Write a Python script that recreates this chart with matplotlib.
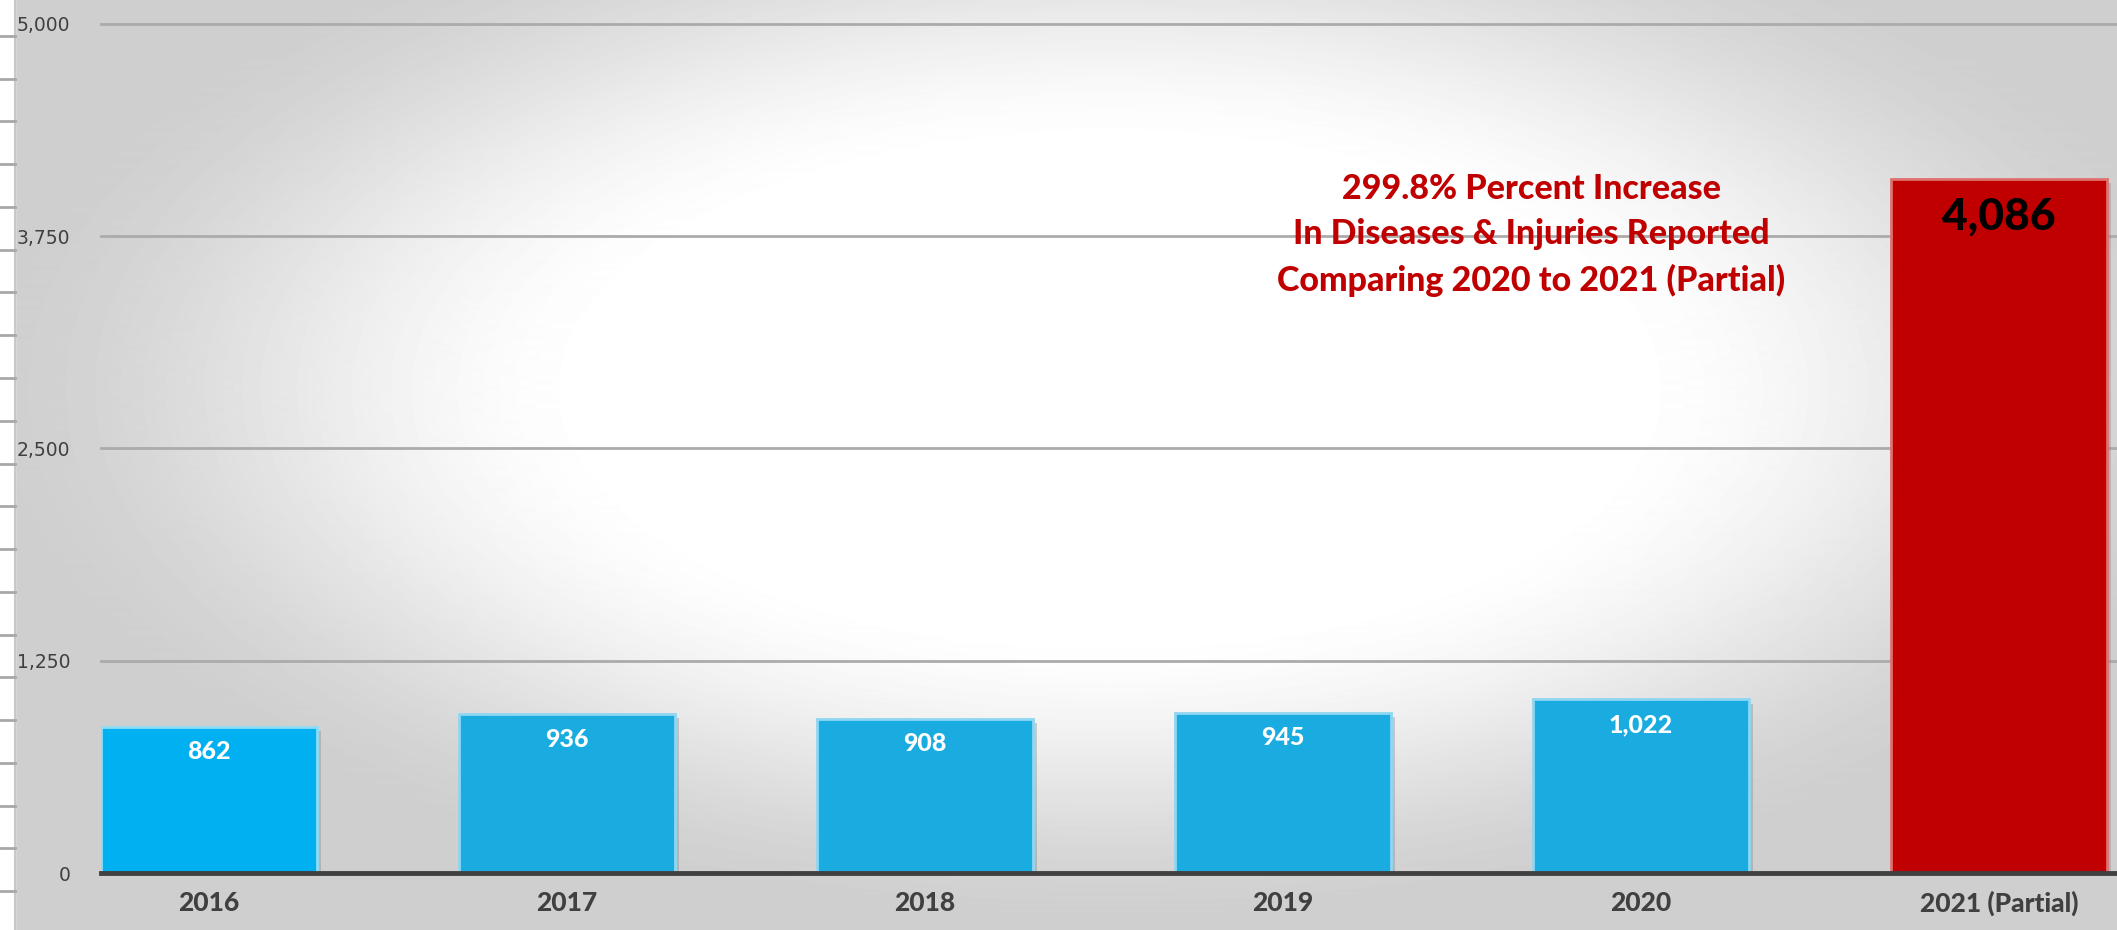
import numpy as np
import matplotlib.pyplot as plt
import matplotlib.patheffects as pe
from matplotlib.patches import Rectangle

# data
years = ["2016", "2017", "2018", "2019", "2020", "2021 (Partial)"]
cases = [862, 936, 908, 945, 1022, 4086]
bar_colors = ["#00B0F0", "#1AACE1", "#1AACE1", "#1AACE1", "#1AACE1", "#C00000"]
edge_colors = ["#8FDCF7", "#8FD6F2", "#8FD6F2", "#8FD6F2", "#8FD6F2", "#E07070"]
y_ticks = [0, 1250, 2500, 3750, 5000]
note = "299.8% Percent Increase\nIn Diseases & Injuries Reported\nComparing 2020 to 2021 (Partial)"

W, H = 2117, 930
fig = plt.figure(figsize=(W / 100, H / 100), dpi=100)

# radial grey background (pixel coordinates)
bg = fig.add_axes([0, 0, 1, 1], zorder=-2)
yy, xx = np.mgrid[0:H, 0:W]
r = np.sqrt(((xx - 1110) / 1100.0) ** 2 + ((yy - 390) / 520.0) ** 2)
t = np.clip((r - 0.45) / 0.6, 0, 1)
t = t * t * (3 - 2 * t)
shade = 1 - 0.19 * t
bg.imshow(shade, cmap="gray", vmin=0, vmax=1, extent=[0, W, H, 0], aspect="auto", zorder=0)
bg.set_xlim(0, W)
bg.set_ylim(H, 0)
bg.axis("off")

# white strip with ruler marks on the far left
bg.add_patch(Rectangle((0, 0), 15, H, color="white", zorder=2))
bg.plot([15, 15], [0, H], color="#c8c8c8", lw=1.5, zorder=3)
for k in range(21):
    yk = 36 + 42.75 * k
    bg.plot([0, 15], [yk, yk], color="#a8a8a8", lw=2, zorder=3)

# main chart
ax = fig.add_axes([101 / W, (H - 873) / H, (W - 101) / W, (873 - 24) / H])
ax.patch.set_alpha(0)
for s in ax.spines.values():
    s.set_visible(False)

x = np.arange(len(years))
bars = ax.bar(x, cases, width=0.603, color=bar_colors, edgecolor=edge_colors, linewidth=2, zorder=3)
for b in bars:
    b.set_path_effects([pe.SimplePatchShadow(offset=(3, -3), shadow_rgbFace="#808080", alpha=0.35), pe.Normal()])

ax.set_xlim(-0.3017, 5.330)
ax.set_ylim(0, 5000)
ax.set_yticks(y_ticks)
ax.set_yticklabels([f"{v:,}" for v in y_ticks])
ax.yaxis.grid(True, color="#ababab", lw=2, zorder=1)
for gl in ax.get_ygridlines():
    gl.set_clip_on(False)
ax.set_axisbelow(True)
ax.axhline(0, color="#404040", lw=3.5, zorder=4, clip_on=False)

ax.tick_params(axis="y", length=0, pad=22, labelsize=13.5, labelcolor="#404040")
ax.set_xticks(x)
ax.set_xticklabels(years, fontfamily="Lato", fontweight=900, fontsize=19, color="#404040")
ax.tick_params(axis="x", length=0, pad=13)

for i, v in enumerate(cases):
    if i == len(cases) - 1:
        ax.annotate(f"{v:,}", xy=(i, v), xytext=(0, -27), textcoords="offset points",
                    ha="center", va="center", fontfamily="Lato", fontweight=900, fontsize=32, color="black", zorder=5)
    else:
        ax.annotate(f"{v:,}", xy=(i, v), xytext=(0, -18), textcoords="offset points",
                    ha="center", va="center", fontfamily="Lato", fontweight=900, fontsize=18, color="white", zorder=5)

fig.text(1531 / W, 1 - 235 / H, note, ha="center", va="center", fontfamily="Lato", fontweight=900,
         fontsize=24.5, color="#C00000", linespacing=1.52)

fig.savefig("out.png", dpi=100)
